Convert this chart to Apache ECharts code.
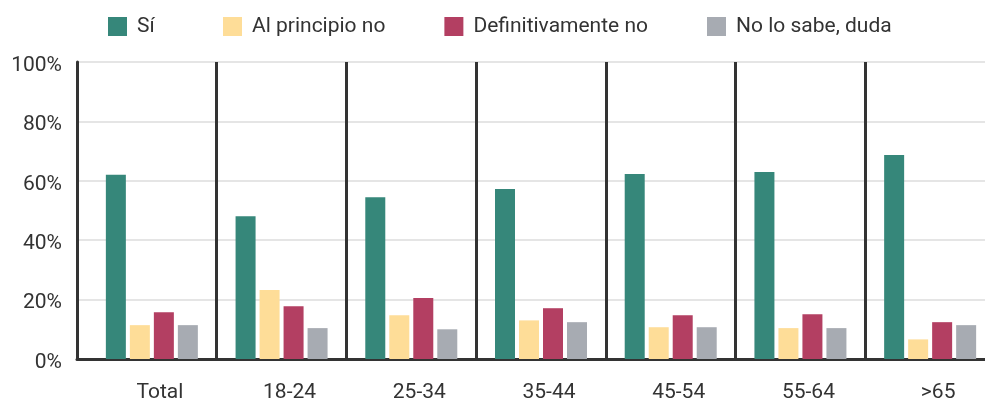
<!DOCTYPE html>
<html>
<head>
<meta charset="utf-8">
<script src="https://cdn.jsdelivr.net/npm/echarts@6/dist/echarts.min.js"></script>
<style>
  html, body { margin: 0; padding: 0; background: #fff; overflow: hidden; }
  #chart { width: 995px; height: 398px; }
</style>
</head>
<body>
<div id="chart"></div>
<script>
// Age groups shown along the x axis
const categories = ['Total', '18-24', '25-34', '35-44', '45-54', '55-64', '>65'];

// Share of answers per group (%)
const si = [62.0, 48.1, 54.5, 57.2, 62.3, 63.0, 68.7];
const alPrincipioNo = [11.4, 23.2, 14.7, 13.0, 10.7, 10.4, 6.6];
const definitivamenteNo = [15.7, 17.8, 20.5, 17.1, 14.7, 15.1, 12.4];
const noLoSabe = [11.4, 10.4, 10.0, 12.4, 10.7, 10.4, 11.4];

const seriesNames = ['Sí', 'Al principio no', 'Definitivamente no', 'No lo sabe, duda'];
const yTicks = [0, 20, 40, 60, 80, 100];

const colors = ['#36877a', '#fedd98', '#b33f62', '#a7abb2'];
const textColor = '#333333';
const axisDark = '#333333';
const fontFamily = 'Roboto, "Noto Sans", sans-serif';
const fontSize = 21;

const chart = echarts.init(document.getElementById('chart'), null, { renderer: 'canvas' });

const seriesData = [si, alPrincipioNo, definitivamenteNo, noLoSabe];

function legendBlock(left, names) {
  return {
    top: 16,
    left: left,
    padding: 0,
    itemWidth: 19,
    itemHeight: 19,
    itemGap: 59,
    icon: 'rect',
    data: names,
    textStyle: {
      fontFamily: fontFamily,
      fontSize: fontSize,
      color: textColor,
      padding: [0, 0, 0, 5]
    }
  };
}

const option = {
  animation: false,
  backgroundColor: '#ffffff',
  color: colors,
  textStyle: { fontFamily: fontFamily },
  legend: [
    legendBlock(108, seriesNames.slice(0, 1)),
    legendBlock(223, seriesNames.slice(1))
  ],
  grid: [
    // bars and group separators
    { left: 87, width: 908, top: 62, bottom: 39, outerBoundsMode: 'none' },
    // frame: axis lines, y labels and horizontal gridlines
    { left: 77, width: 908, top: 62, bottom: 39, outerBoundsMode: 'none' }
  ],
  xAxis: [
    {
      gridIndex: 0,
      type: 'category',
      data: categories,
      axisLine: { show: false },
      axisTick: { show: false },
      axisLabel: {
        fontFamily: fontFamily,
        fontSize: fontSize,
        color: textColor,
        margin: 23,
        padding: [0, 0, 0, 16]
      },
      splitLine: {
        show: true,
        interval: 0,
        showMinLine: false,
        showMaxLine: false,
        lineStyle: { color: axisDark, width: 3 }
      }
    },
    {
      gridIndex: 1,
      type: 'category',
      data: categories,
      axisLine: { show: true, lineStyle: { color: axisDark, width: 3 } },
      axisTick: { show: false },
      axisLabel: { show: false },
      splitLine: { show: false }
    }
  ],
  yAxis: [
    {
      gridIndex: 0,
      type: 'value',
      min: 0,
      max: 100,
      interval: 20,
      show: false
    },
    {
      gridIndex: 1,
      type: 'value',
      min: 0,
      max: 100,
      interval: 20,
      axisLine: { show: true, lineStyle: { color: axisDark, width: 3 } },
      axisTick: { show: false },
      axisLabel: {
        margin: 15,
        formatter: function (v) { return yTicks.indexOf(v) >= 0 ? '{v|' + v + '%}' : ''; },
        rich: {
          v: {
            fontFamily: fontFamily,
            fontSize: fontSize,
            color: textColor,
            padding: [7, 0, 0, 0]
          }
        }
      },
      splitLine: { show: true, lineStyle: { color: '#dddddd', width: 1.5 } }
    }
  ],
  series: seriesNames.map(function (name, i) {
    return {
      name: name,
      type: 'bar',
      xAxisIndex: 0,
      yAxisIndex: 0,
      data: seriesData[i],
      barWidth: 20,
      barGap: '20%',
      itemStyle: { color: colors[i] },
      z: 3
    };
  })
};

chart.setOption(option);
</script>
</body>
</html>
